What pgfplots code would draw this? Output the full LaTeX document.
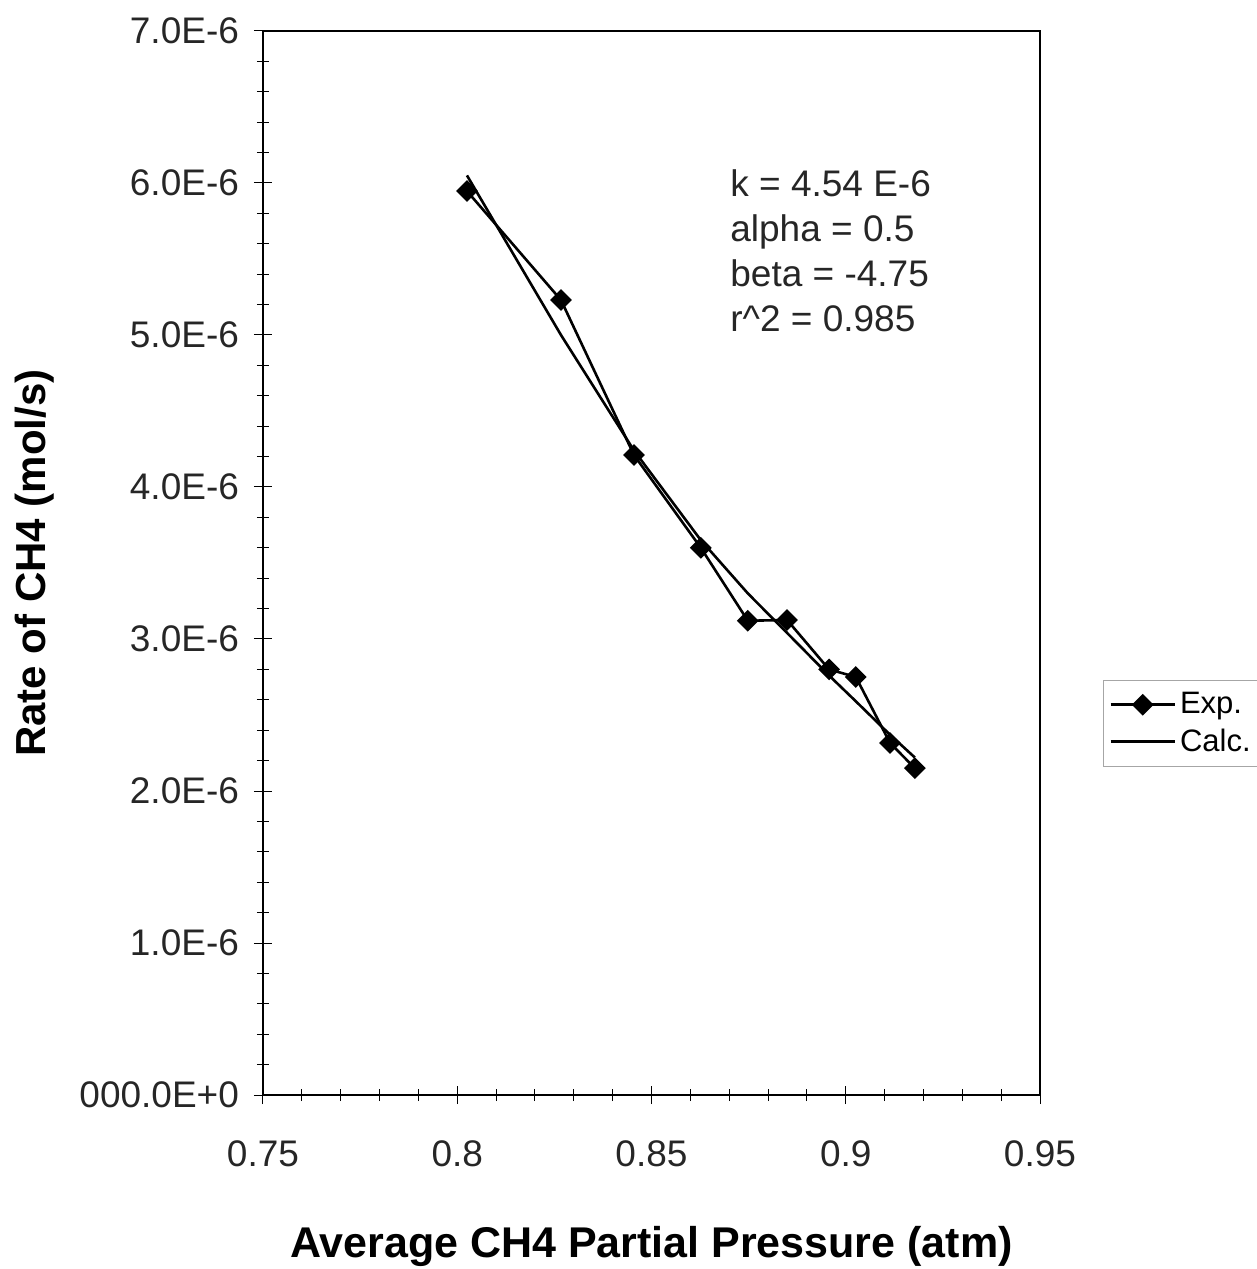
\documentclass[border=0pt]{standalone}
\usepackage{pgfplots}
\pgfplotsset{compat=1.18}
\usepackage{fontspec}
\setmainfont{Liberation Sans}
\begin{document}
\begin{tikzpicture}
\useasboundingbox (-131.5pt,-87pt) rectangle (497pt,547.5pt);
\begin{axis}[
  scale only axis,
  width=388.5pt, height=532pt,
  xmin=0.75, xmax=0.95, ymin=0, ymax=7e-6,
  axis line style={line width=1.4pt},
  xtick={0.75,0.8,0.85,0.9,0.95},
  xticklabels={0.75,0.8,0.85,0.9,0.95},
  ytick={0,1e-6,2e-6,3e-6,4e-6,5e-6,6e-6,7e-6},
  yticklabels={000.0E+0,1.0E-6,2.0E-6,3.0E-6,4.0E-6,5.0E-6,6.0E-6,7.0E-6},
  minor x tick num=4, minor y tick num=4,
  tick align=center,
  xtick pos=left, ytick pos=left,
  major tick length=9pt, minor tick length=6pt,
  every tick/.style={black, line width=0.5pt},
  scaled y ticks=false,
  /pgf/number format/assume math mode=true,
  ticklabel style={font=\fontsize{18.5}{22}\selectfont, text=black!85},
  xticklabel style={yshift=-15pt},
  yticklabel style={xshift=-4pt},
  xlabel={\textbf{Average CH4 Partial Pressure (atm)}},
  ylabel={\textbf{Rate of CH4 (mol/s)}},
  xlabel style={at={(axis description cs:0.5,-0.142)}, anchor=center, font=\fontsize{21.5}{24}\selectfont},
  ylabel style={at={(axis description cs:-0.2934,0.5)}, anchor=center, rotate=0, font=\fontsize{21}{24}\selectfont},
  legend style={at={(rel axis cs:1.081,0.390)}, anchor=north west, draw=gray!70, line width=0.5pt,
    font=\fontsize{15.5}{18}\selectfont, row sep=2pt, inner xsep=3pt, inner ysep=4pt},
  legend cell align=left,
  legend image code/.code={\draw[mark repeat=2,mark phase=2,#1] plot coordinates {(0pt,0pt) (16pt,0pt) (32pt,0pt)};},
]
\addplot[black, line width=1.3pt, mark=square*, mark size=3.2pt, mark options={solid, fill=black, rotate=45}] coordinates {
(0.8025,5.947e-6)
(0.8267,5.23e-6)
(0.8455,4.21e-6)
(0.8627,3.60e-6)
(0.8748,3.12e-6)
(0.8849,3.125e-6)
(0.8957,2.80e-6)
(0.9026,2.75e-6)
(0.9114,2.316e-6)
(0.9178,2.15e-6)
};
\addlegendentry{Exp.}
\addplot[black, line width=1.3pt, no marks] coordinates {
(0.8025,6.05e-6)
(0.8267,5.00e-6)
(0.8455,4.24e-6)
(0.8627,3.65e-6)
(0.8748,3.30e-6)
(0.8849,3.04e-6)
(0.8957,2.76e-6)
(0.9026,2.59e-6)
(0.9114,2.37e-6)
(0.9178,2.22e-6)
};
\addlegendentry{Calc.}
\node[anchor=north west, inner sep=0pt, align=left, text=black!85, font=\fontsize{18.5}{22.5}\selectfont]
  at (axis cs:0.8702,6.09e-6) {k = 4.54 E-6\\alpha = 0.5\\beta = -4.75\\r\^{}2 = 0.985};
\end{axis}
\end{tikzpicture}
\end{document}
